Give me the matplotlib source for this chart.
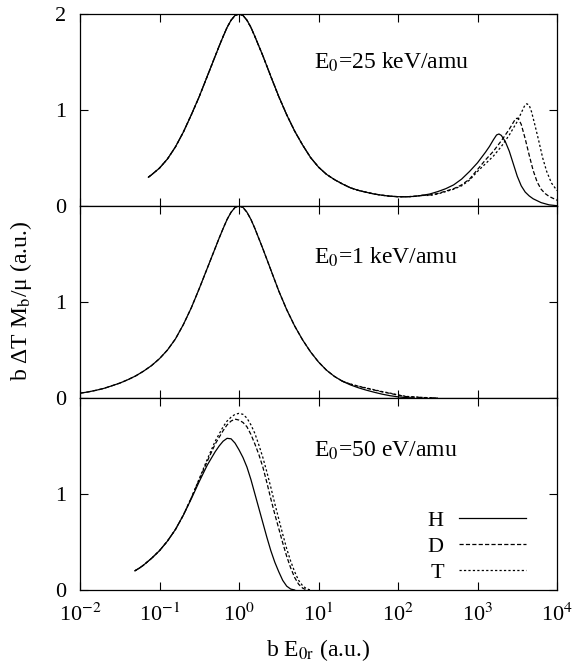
import matplotlib
matplotlib.use('Agg')
import matplotlib.pyplot as plt
import numpy as np

plt.rcParams['font.family'] = ['Liberation Serif', 'DejaVu Serif']
plt.rcParams['mathtext.fontset'] = 'stix'
plt.rcParams['lines.scale_dashes'] = False

# ---- datos (x en log10) ----
# panel superior, E0 = 25 keV/amu
top_lx = [-1.14, -1.1, -1.0, -0.9, -0.8, -0.7, -0.6, -0.5, -0.4, -0.3, -0.25, -0.2,
          -0.15, -0.1, -0.05, 0.0, 0.05, 0.1, 0.15, 0.2, 0.25, 0.3, 0.4, 0.5, 0.6,
          0.7, 0.8, 0.9, 1.0, 1.1, 1.2, 1.3, 1.4, 1.5, 1.6, 1.7, 1.8, 1.9, 2.0,
          2.1, 2.2, 2.3]
top_y = [0.30, 0.325, 0.395, 0.49, 0.615, 0.77, 0.95, 1.14, 1.35, 1.56, 1.665, 1.765,
         1.86, 1.935, 1.985, 2.0, 1.985, 1.935, 1.86, 1.765, 1.665, 1.565, 1.35, 1.14,
         0.95, 0.78, 0.635, 0.505, 0.405, 0.33, 0.275, 0.23, 0.19, 0.163, 0.143,
         0.125, 0.112, 0.102, 0.097, 0.096, 0.10, 0.11]

top_tail_lx_H = [2.3, 2.4, 2.5, 2.6, 2.7, 2.8, 2.9, 3.0, 3.1, 3.15, 3.2, 3.24, 3.27,
                 3.3, 3.35, 3.4, 3.45, 3.5, 3.55, 3.6, 3.65, 3.7, 3.8, 3.9, 4.0]
top_tail_H = [0.11, 0.125, 0.15, 0.18, 0.22, 0.28, 0.36, 0.45, 0.56, 0.62, 0.69, 0.74,
              0.75, 0.735, 0.67, 0.57, 0.44, 0.31, 0.21, 0.145, 0.105, 0.075, 0.035,
              0.012, 0.003]
top_tail_lx_D = [2.3, 2.4, 2.5, 2.6, 2.7, 2.8, 2.9, 3.0, 3.1, 3.2, 3.3, 3.4, 3.45,
                 3.48, 3.51, 3.55, 3.6, 3.65, 3.7, 3.75, 3.8, 3.85, 3.9, 4.0]
top_tail_D = [0.11, 0.115, 0.13, 0.155, 0.18, 0.22, 0.28, 0.38, 0.48, 0.57, 0.68,
              0.80, 0.87, 0.91, 0.915, 0.85, 0.70, 0.53, 0.37, 0.25, 0.175, 0.13,
              0.10, 0.06]
top_tail_lx_T = [2.3, 2.4, 2.5, 2.6, 2.7, 2.8, 2.9, 3.0, 3.1, 3.2, 3.3, 3.4, 3.5,
                 3.55, 3.59, 3.62, 3.65, 3.68, 3.72, 3.77, 3.82, 3.87, 3.93, 4.0]
top_tail_T = [0.11, 0.11, 0.125, 0.15, 0.175, 0.21, 0.27, 0.36, 0.44, 0.52, 0.62,
              0.74, 0.88, 0.97, 1.04, 1.065, 1.05, 0.98, 0.85, 0.68, 0.50, 0.36,
              0.24, 0.16]

# panel central, E0 = 1 keV/amu
mid_lx = [-2.0, -1.9, -1.8, -1.7, -1.6, -1.5, -1.4, -1.3, -1.2, -1.1, -1.0, -0.9,
          -0.8, -0.7, -0.6, -0.5, -0.4, -0.3, -0.25, -0.2, -0.15, -0.1, -0.05, 0.0,
          0.05, 0.1, 0.15, 0.2, 0.25, 0.3, 0.4, 0.5, 0.6, 0.7, 0.8, 0.9, 1.0, 1.1,
          1.2, 1.3]
mid_y = [0.05, 0.063, 0.08, 0.10, 0.127, 0.155, 0.19, 0.23, 0.28, 0.338, 0.41, 0.50,
         0.615, 0.765, 0.94, 1.14, 1.35, 1.56, 1.665, 1.765, 1.86, 1.935, 1.985, 2.0,
         1.985, 1.935, 1.86, 1.765, 1.66, 1.555, 1.335, 1.115, 0.92, 0.75, 0.605,
         0.48, 0.375, 0.29, 0.225, 0.175]
mid_tail_lx_H = [1.3, 1.4, 1.5, 1.6, 1.7, 1.8, 1.9, 2.0, 2.1, 2.2]
mid_tail_H = [0.175, 0.137, 0.107, 0.082, 0.06, 0.04, 0.024, 0.012, 0.004, 0.0]
mid_tail_lx_D = [1.3, 1.4, 1.5, 1.6, 1.7, 1.8, 1.9, 2.0, 2.1, 2.3, 2.5]
mid_tail_D = [0.175, 0.145, 0.122, 0.102, 0.083, 0.064, 0.048, 0.03, 0.015, 0.005, 0.0]
mid_tail_T = [0.175, 0.146, 0.124, 0.105, 0.086, 0.067, 0.051, 0.032, 0.017, 0.006, 0.0]

# panel inferior, E0 = 50 eV/amu
bot_lx_H = [-1.31, -1.25, -1.2, -1.15, -1.1, -1.05, -1.0, -0.9, -0.8, -0.7, -0.6,
            -0.5, -0.4, -0.3, -0.25, -0.2, -0.15, -0.1, -0.05, 0.0, 0.05, 0.1, 0.15,
            0.2, 0.25, 0.3, 0.35, 0.4, 0.45, 0.5, 0.55, 0.6, 0.65, 0.7]
bot_H = [0.20, 0.23, 0.26, 0.295, 0.33, 0.37, 0.41, 0.51, 0.63, 0.78, 0.95, 1.13,
         1.30, 1.44, 1.50, 1.55, 1.58, 1.575, 1.53, 1.46, 1.38, 1.28, 1.15, 1.00,
         0.85, 0.70, 0.55, 0.41, 0.29, 0.19, 0.10, 0.04, 0.01, 0.0]
bot_lx_D = [-1.31, -1.25, -1.2, -1.15, -1.1, -1.05, -1.0, -0.9, -0.8, -0.7, -0.6,
            -0.5, -0.4, -0.3, -0.2, -0.15, -0.1, -0.05, 0.0, 0.05, 0.1, 0.15, 0.2,
            0.25, 0.3, 0.35, 0.4, 0.45, 0.5, 0.55, 0.6, 0.65, 0.7, 0.75, 0.8, 0.85]
bot_D = [0.20, 0.23, 0.26, 0.295, 0.33, 0.37, 0.41, 0.51, 0.63, 0.78, 0.96, 1.15,
         1.34, 1.52, 1.66, 1.72, 1.76, 1.78, 1.77, 1.745, 1.70, 1.62, 1.52, 1.41,
         1.28, 1.12, 0.95, 0.79, 0.64, 0.49, 0.35, 0.23, 0.13, 0.06, 0.02, 0.0]
bot_lx_T = [-1.31, -1.25, -1.2, -1.15, -1.1, -1.05, -1.0, -0.9, -0.8, -0.7, -0.6,
            -0.5, -0.4, -0.3, -0.2, -0.15, -0.1, -0.05, 0.0, 0.05, 0.1, 0.15, 0.2,
            0.25, 0.3, 0.35, 0.4, 0.45, 0.5, 0.55, 0.6, 0.65, 0.7, 0.75, 0.8, 0.85,
            0.9]
bot_T = [0.20, 0.23, 0.26, 0.295, 0.33, 0.37, 0.41, 0.51, 0.63, 0.78, 0.96, 1.16,
         1.36, 1.55, 1.70, 1.76, 1.80, 1.83, 1.84, 1.83, 1.79, 1.72, 1.63, 1.51,
         1.38, 1.23, 1.07, 0.90, 0.74, 0.58, 0.43, 0.30, 0.19, 0.10, 0.045, 0.012,
         0.0]

labels = ['H', 'D', 'T']
panel_text = ['E$_0$=25 keV/amu', 'E$_0$=1 keV/amu', 'E$_0$=50 eV/amu']
xtick_vals = [1e-2, 1e-1, 1e0, 1e1, 1e2, 1e3, 1e4]
xtick_labels = ['10$^{-2}$', '10$^{-1}$', '10$^{0}$', '10$^{1}$',
                '10$^{2}$', '10$^{3}$', '10$^{4}$']

styles = {'H': dict(ls='-'),
          'D': dict(ls=(0, (3.0, 1.6))),
          'T': dict(ls=(0, (1.6, 1.6)))}
lw = 0.9

fig = plt.figure(figsize=(5.74, 6.66), dpi=100)
left, width, h = 0.1394, 0.831, 0.2883
ax_top = fig.add_axes([left, 0.6907, width, h])
ax_mid = fig.add_axes([left, 0.4024, width, h])
ax_bot = fig.add_axes([left, 0.1141, width, h])
axes = [ax_top, ax_mid, ax_bot]


def lg(v):
    return 10 ** np.asarray(v)


# superior
for k in labels:
    ax_top.plot(lg(top_lx), top_y, color='black', lw=lw, **styles[k])
ax_top.plot(lg(top_tail_lx_H), top_tail_H, color='black', lw=lw, **styles['H'])
ax_top.plot(lg(top_tail_lx_D), top_tail_D, color='black', lw=lw, **styles['D'])
ax_top.plot(lg(top_tail_lx_T), top_tail_T, color='black', lw=lw, **styles['T'])

# central
ax_mid.plot(lg(mid_lx), mid_y, color='black', lw=lw, **styles['H'])
ax_mid.plot(lg(mid_lx), mid_y, color='black', lw=lw, **styles['D'])
ax_mid.plot(lg(mid_tail_lx_H), mid_tail_H, color='black', lw=lw, **styles['H'])
ax_mid.plot(lg(mid_tail_lx_D), mid_tail_D, color='black', lw=lw, **styles['D'])
ax_mid.plot(lg(mid_tail_lx_D), mid_tail_T, color='black', lw=lw, **styles['T'])

# inferior
ax_bot.plot(lg(bot_lx_H), bot_H, color='black', lw=lw, label=labels[0], **styles['H'])
ax_bot.plot(lg(bot_lx_D), bot_D, color='black', lw=lw, label=labels[1], **styles['D'])
ax_bot.plot(lg(bot_lx_T), bot_T, color='black', lw=lw, label=labels[2], **styles['T'])

text_y = [0.717, 0.697, 0.695]
for i, ax in enumerate(axes):
    ax.set_xscale('log')
    ax.set_xlim(1e-2, 1e4)
    ax.set_ylim(0, 2)
    ax.set_xticks(xtick_vals)
    ax.minorticks_off()
    ax.tick_params(direction='in', length=6, width=0.8, top=True, right=True,
                   labelsize=16)
    ax.tick_params(axis='y', pad=10)
    for s in ax.spines.values():
        s.set_linewidth(0.9)
    ax.text(0.49, text_y[i], panel_text[i], transform=ax.transAxes,
            fontsize=17, ha='left', va='baseline')
    if i < 2:
        ax.tick_params(labelbottom=False)

ax_top.set_yticks([0, 1, 2])
ax_mid.set_yticks([0, 1])
ax_bot.set_yticks([0, 1])
ax_bot.set_xticklabels(xtick_labels)
ax_bot.tick_params(axis='x', pad=10)

ax_bot.set_xlabel('b E$_{0\\mathrm{r}}$ (a.u.)', fontsize=17, labelpad=8)
fig.text(0.037, 0.548, 'b ΔT M$_\\mathrm{b}$/μ (a.u.)', rotation=90,
         fontsize=17, ha='center', va='center')

ax_bot.legend(loc='lower right', bbox_to_anchor=(0.977, -0.069), frameon=False,
              markerfirst=False, fontsize=16, handlelength=3.0, labelspacing=0.25,
              handletextpad=0.7)

fig.savefig('out.png', dpi=100)
